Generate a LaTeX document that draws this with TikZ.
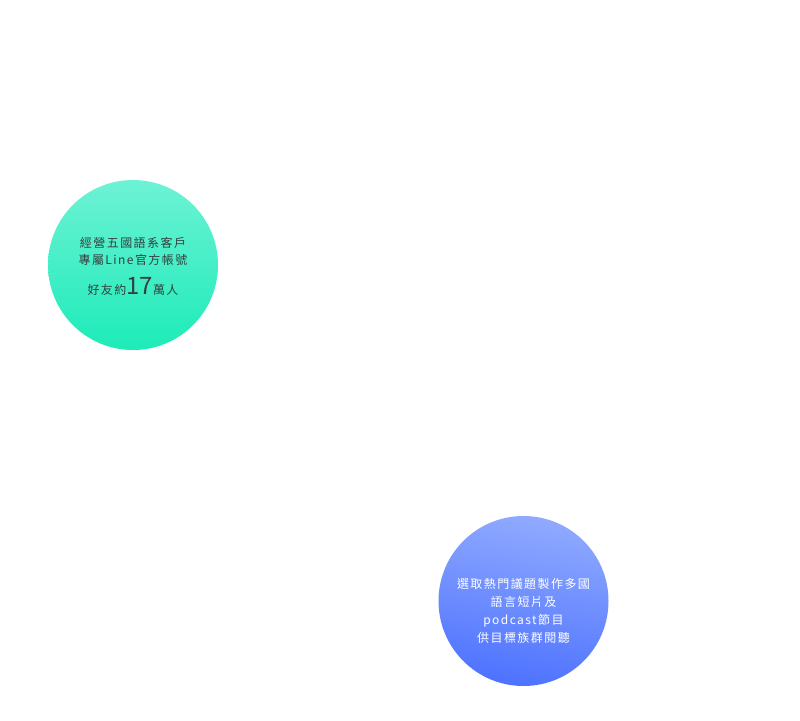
\documentclass[tikz,border=0pt]{standalone}
\usepackage{fontspec}
\newfontfamily\cjk[LetterSpace=12]{Noto Sans CJK TC}
\newfontfamily\cjkdigits{Noto Sans CJK TC}
\usepackage{tikz}
\usetikzlibrary{positioning,calc}
\definecolor{mintTop}{HTML}{6DF2D5}
\definecolor{mintBot}{HTML}{1DEBB8}
\definecolor{blueTop}{HTML}{90AAFF}
\definecolor{blueBot}{HTML}{4D72FF}
\definecolor{inkGray}{HTML}{34403F}

\begin{document}
\begin{tikzpicture}[x=1pt, y=-1pt,
    bubble/.style={circle, minimum size=170pt, inner sep=0pt},
    bubbletext/.style={align=center, font=\cjk\fontsize{12}{17}\selectfont}]
    \useasboundingbox (0,0) rectangle (800,720);

    % Circles
    \node[bubble, top color=mintTop, bottom color=mintBot] (fans) at (133,265) {};
    \node[bubble, top color=blueTop, bottom color=blueBot, shading angle=-10] (shows) at (523.5,601) {};

    % Texts
    \node[bubbletext, text=inkGray] (fansText) at ([yshift=-1pt]fans.center)
        {經營五國語系客戶\\專屬Line官方帳號\\[11pt]好友約{\cjkdigits\fontsize{24}{24}\selectfont 17}萬人};
    \node[bubbletext, text=white, font=\cjk\fontsize{12}{18}\selectfont] (showsText) at ([yshift=-10pt]shows.center)
        {選取熱門議題製作多國\\語言短片及\\podcast節目\\供目標族群閱聽};
\end{tikzpicture}
\end{document}
